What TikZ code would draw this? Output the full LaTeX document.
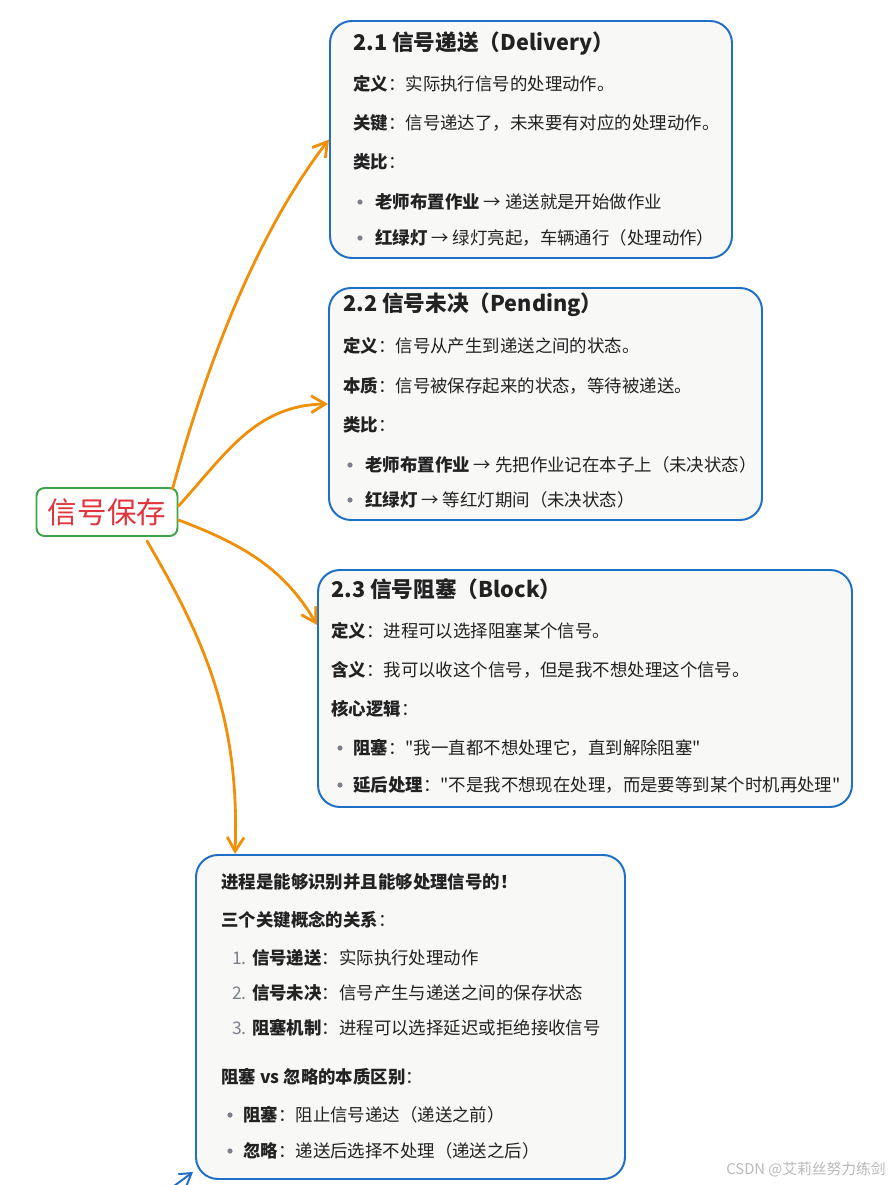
\documentclass[tikz,border=0pt]{standalone}
\usepackage{fontspec}
\setmainfont{Noto Sans CJK SC}[Ligatures=TeXOff]
\usetikzlibrary{arrows.meta,calc}
\definecolor{ink}{HTML}{222222}
\definecolor{card}{HTML}{F8F8F7}
\definecolor{frame}{HTML}{1F6FC6}
\definecolor{flow}{HTML}{EF8F0A}
\definecolor{leaf}{HTML}{3FA447}
\definecolor{rootred}{HTML}{E0353D}
\definecolor{dot}{HTML}{7B808C}
\definecolor{mark}{HTML}{B8B8B8}
\tikzset{
  cardbox/.style={draw=frame,fill=card,line width=1.4pt,rounded corners=5.5mm,anchor=north west,inner sep=0},
  txt/.style={anchor=west,inner sep=0,text=ink,font=\fontsize{12.4}{15}\selectfont},
  head/.style={txt,font=\fontsize{15.4}{18}\selectfont\bfseries},
  flowline/.style={flow,line width=2pt,-{Straight Barb[length=10pt,width=12pt,line width=2pt]}}
}
\begin{document}
\begin{tikzpicture}[x=0.025cm,y=-0.025cm,line cap=round,line join=round]
\useasboundingbox (0,0) rectangle (891,1185);
% root
\node[draw=leaf,fill=white,line width=1.4pt,rounded corners=2mm,minimum width=141*0.025cm,minimum height=48*0.025cm,inner sep=0,text=rootred,font=\fontsize{21}{24}\selectfont] (root) at (107,512) {信号保存};
% 2.1
\node[cardbox,minimum width=402*0.025cm,minimum height=237*0.025cm] (b1) at (329,20) {};
\node[head] (b1t) at (353,43) {2.1 信号递送（Delivery）};
\node[txt] (b1a) at (353,84) {\textbf{定义}：实际执行信号的处理动作。};
\node[txt] (b1b) at (353,123) {\textbf{关键}：信号递达了，未来要有对应的处理动作。};
\node[txt] (b1c) at (353,162) {\textbf{类比}：};
\fill[dot] (360,202) circle (2.6);
\node[txt] (b1d) at (375,202) {\textbf{老师布置作业} → 递送就是开始做作业};
\fill[dot] (360,238) circle (2.6);
\node[txt] (b1e) at (375,238) {\textbf{红绿灯} → 绿灯亮起，车辆通行（处理动作）};
% 2.2
\node[cardbox,minimum width=433*0.025cm,minimum height=232*0.025cm] (b2) at (328,287) {};
\node[head] (b2t) at (343,305) {2.2 信号未决（Pending）};
\node[txt] (b2a) at (343,346) {\textbf{定义}：信号从产生到递送之间的状态。};
\node[txt] (b2b) at (343,386) {\textbf{本质}：信号被保存起来的状态，等待被递送。};
\node[txt] (b2c) at (343,425) {\textbf{类比}：};
\fill[dot] (350,465) circle (2.6);
\node[txt] (b2d) at (365,465) {\textbf{老师布置作业} → 先把作业记在本子上（未决状态）};
\fill[dot] (350,500) circle (2.6);
\node[txt] (b2e) at (365,500) {\textbf{红绿灯} → 等红灯期间（未决状态）};
% 2.3
\node[cardbox,minimum width=534*0.025cm,minimum height=237*0.025cm] (b3) at (317,569) {};
\node[head] (b3t) at (331,589) {2.3 信号阻塞（Block）};
\node[txt] (b3a) at (331,631) {\textbf{定义}：进程可以选择阻塞某个信号。};
\node[txt] (b3b) at (331,670) {\textbf{含义}：我可以收这个信号，但是我不想处理这个信号。};
\node[txt] (b3c) at (331,709) {\textbf{核心逻辑}：};
\fill[dot] (340,748) circle (2.6);
\node[txt] (b3d) at (353,748) {\textbf{阻塞}："我一直都不想处理它，直到解除阻塞"};
\fill[dot] (340,785) circle (2.6);
\node[txt] (b3e) at (353,785) {\textbf{延后处理}："不是我不想现在处理，而是要等到某个时机再处理"};
% summary
\node[cardbox,minimum width=429*0.025cm,minimum height=324*0.025cm] (b4) at (195,854) {};
\node[txt] (b4a) at (221,882) {\textbf{进程是能够识别并且能够处理信号的！}};
\node[txt] (b4b) at (221,920) {\textbf{三个关键概念的关系}：};
\node[txt] (b4c) at (232,958) {{\color{dot}1.} \textbf{信号递送}：实际执行处理动作};
\node[txt] (b4d) at (232,993) {{\color{dot}2.} \textbf{信号未决}：信号产生与递送之间的保存状态};
\node[txt] (b4e) at (232,1028) {{\color{dot}3.} \textbf{阻塞机制}：进程可以选择延迟或拒绝接收信号};
\node[txt] (b4f) at (221,1077) {\textbf{阻塞 vs 忽略的本质区别}：};
\fill[dot] (230,1115) circle (2.6);
\node[txt] (b4g) at (243,1115) {\textbf{阻塞}：阻止信号递达（递送之前）};
\fill[dot] (230,1151) circle (2.6);
\node[txt] (b4h) at (243,1151) {\textbf{忽略}：递送后选择不处理（递送之后）};
% arrows
\draw[flowline] ($(root.north east)+(-6,2)$) .. controls (205,370) and (255,235) .. (b1.west);
\draw[flowline] ($(root.east)+(0,-6)$) .. controls (225,455) and (255,405) .. (b2.west);
\draw[flowline] ($(root.east)+(0,8)$) .. controls (245,545) and (285,570) .. ($(b3.north west)+(0,56)$);
\draw[flowline] ($(root.south)+(40,4)$) .. controls (205,640) and (240,720) .. ($(b4.north west)+(40,0)$);
\coordinate (tail) at (174,1186);
\draw[frame,line width=1.4pt,-{Straight Barb[length=8pt,width=10pt,line width=1.4pt]}] (tail) -- ($(b4.south west)+(-2,-8)$);
\node[anchor=east,inner sep=0,text=mark,font=\fontsize{10.5}{12}\selectfont] (csdn) at (886,1169) {CSDN @艾莉丝努力练剑};
\end{tikzpicture}
\end{document}
